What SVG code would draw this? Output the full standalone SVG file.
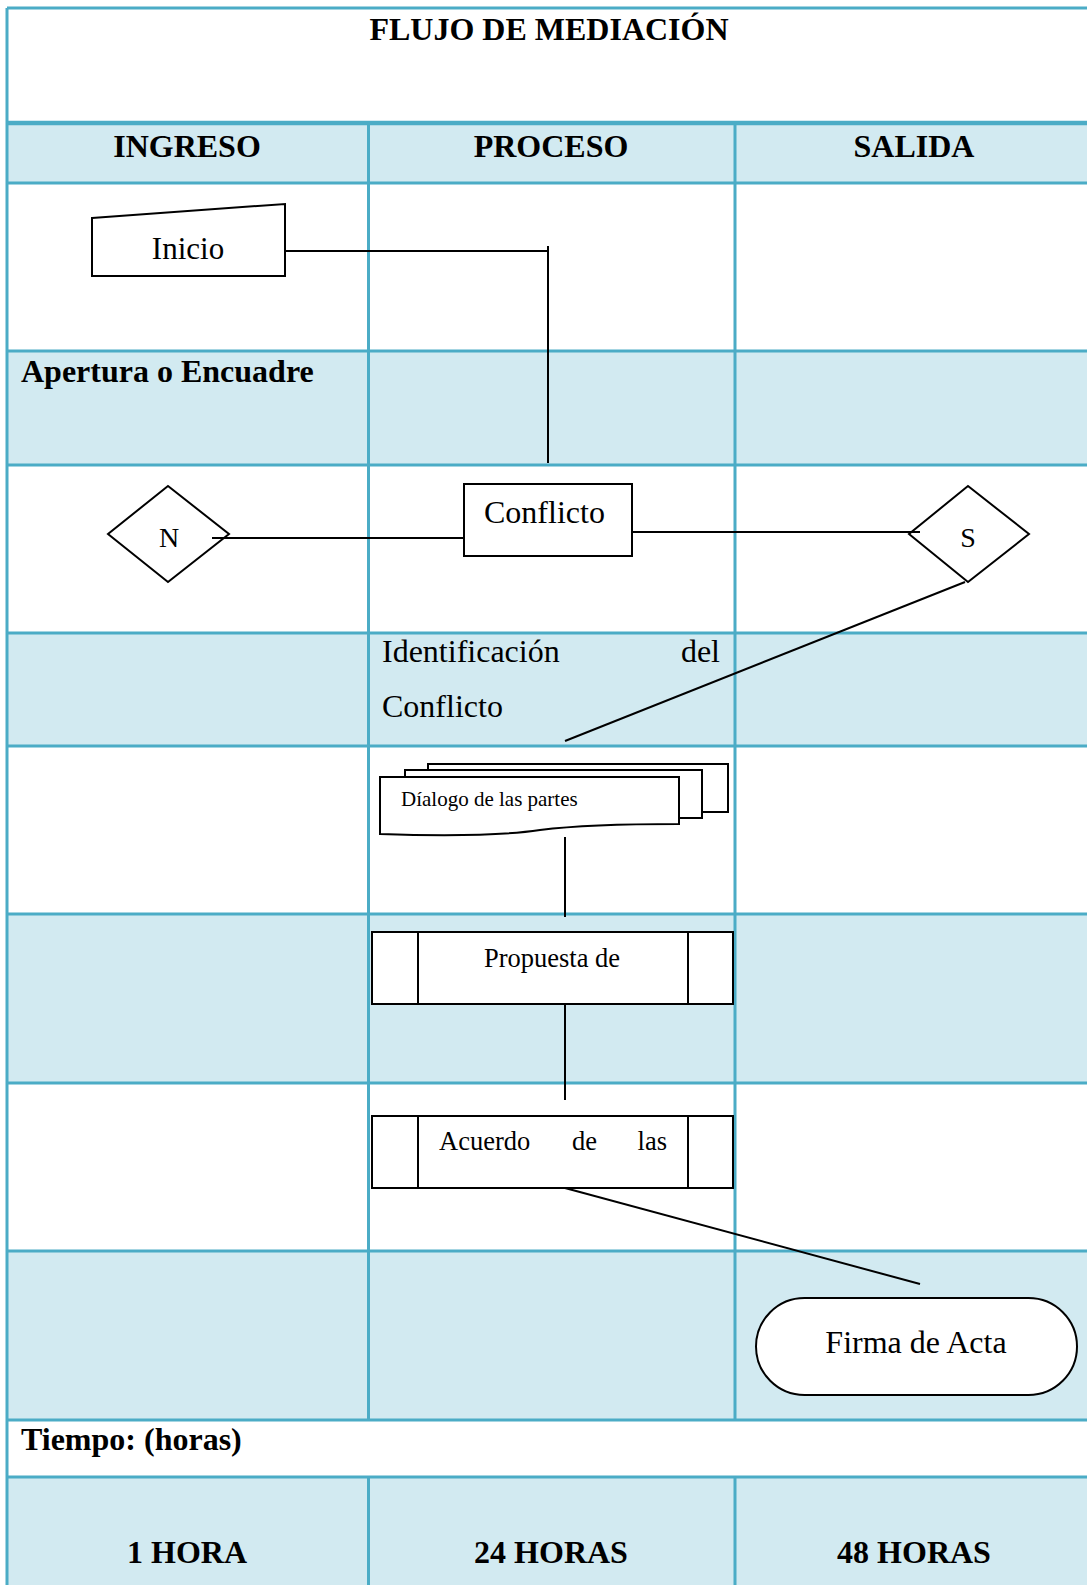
<svg xmlns="http://www.w3.org/2000/svg" width="1087" height="1585" viewBox="0 0 1087 1585">
<style>
.bg{fill:#d2eaf1}
.grid{stroke:#4bacc6;stroke-width:3;fill:none}
.thick{stroke:#4bacc6;stroke-width:4.5;fill:none}
.shape{fill:#fff;stroke:#000;stroke-width:2}
.conn{stroke:#000;stroke-width:2;fill:none}
text{font-family:"Liberation Serif","Times New Roman",serif;fill:#000}
.b{font-weight:bold;font-size:32px}
.r{font-size:32px}
.mid{text-anchor:middle}
</style>
<rect x="0" y="0" width="1087" height="1585" fill="#fff"/>
<g id="table">
<rect class="bg" x="7" y="123" width="1080" height="60"/>
<rect class="bg" x="7" y="351" width="1080" height="114"/>
<rect class="bg" x="7" y="633" width="1080" height="113"/>
<rect class="bg" x="7" y="914" width="1080" height="169"/>
<rect class="bg" x="7" y="1251" width="1080" height="169"/>
<rect class="bg" x="7" y="1477" width="1080" height="108"/>
<path class="grid" d="M7,8H1087 M7,183H1087 M7,351H1087 M7,465H1087 M7,633H1087 M7,746H1087 M7,914H1087 M7,1083H1087 M7,1251H1087 M7,1420H1087 M7,1477H1087 M7,8V1585 M368.5,123V1420 M368.5,1477V1585 M735,123V1420 M735,1477V1585"/>
<path class="thick" d="M7,123H1087"/>
<text class="b mid" x="549" y="40">FLUJO DE MEDIACIÓN</text>
<text class="b mid" x="187" y="157">INGRESO</text>
<text class="b mid" x="551" y="157">PROCESO</text>
<text class="b mid" x="914" y="157">SALIDA</text>
<text class="b" x="21" y="382">Apertura o Encuadre</text>
<text class="r" x="382" y="662">Identificación</text>
<text class="r" x="720" y="662" text-anchor="end">del</text>
<text class="r" x="382" y="717">Conflicto</text>
<text class="b" x="21" y="1450">Tiempo: (horas)</text>
<text class="b mid" x="187" y="1563">1 HORA</text>
<text class="b mid" x="551" y="1563">24 HORAS</text>
<text class="b mid" x="914" y="1563">48 HORAS</text>
</g>
<g id="connectors">
<path class="conn" d="M285,251H548 M548,246V463"/>
<path class="conn" d="M212,538H464"/>
<path class="conn" d="M632,532H920"/>
<path class="conn" d="M965,582L565,741"/>
<path class="conn" d="M565,837V917"/>
<path class="conn" d="M565,1004V1100"/>
<path class="conn" d="M565,1188L920,1284"/>
</g>
<g id="inicio">
<polygon class="shape" points="92,218 285,204 285,276 92,276"/>
<text class="mid" x="188" y="259" font-size="31">Inicio</text>
</g>
<g id="conflicto">
<rect class="shape" x="464" y="484" width="168" height="72"/>
<text class="r" x="484" y="523">Conflicto</text>
</g>
<g id="n">
<polygon class="shape" points="168,486 229,534 168,582 108,534" style="fill:none"/>
<text class="mid" x="169" y="547" font-size="28">N</text>
</g>
<g id="s">
<polygon class="shape" points="968,486 1029,534 968,582 909,534" style="fill:none"/>
<text class="mid" x="968" y="547" font-size="28">S</text>
</g>
<g id="dialogo">
<rect class="shape" x="428" y="764" width="300" height="48"/>
<rect class="shape" x="405" y="770" width="297" height="48"/>
<path class="shape" d="M380,777H679V824C620,824 580,825 540,830C500,836 440,836 380,834Z"/>
<text x="401" y="806" font-size="21">Díalogo de las partes</text>
</g>
<g id="propuesta">
<rect class="shape" x="372" y="932" width="361" height="72"/>
<path class="conn" d="M418,932V1004 M688,932V1004"/>
<text class="mid" x="552" y="967" font-size="26.5">Propuesta de</text>
</g>
<g id="acuerdo">
<rect class="shape" x="372" y="1116" width="361" height="72"/>
<path class="conn" d="M418,1116V1188 M688,1116V1188"/>
<text x="439" y="1150" font-size="26.5">Acuerdo</text>
<text x="572" y="1150" font-size="26.5">de</text>
<text x="667" y="1150" font-size="26.5" text-anchor="end">las</text>
</g>
<g id="firma">
<rect class="shape" x="756" y="1298" width="321" height="97" rx="48.5" ry="48.5"/>
<text class="r mid" x="916" y="1353">Firma de Acta</text>
</g>
</svg>
